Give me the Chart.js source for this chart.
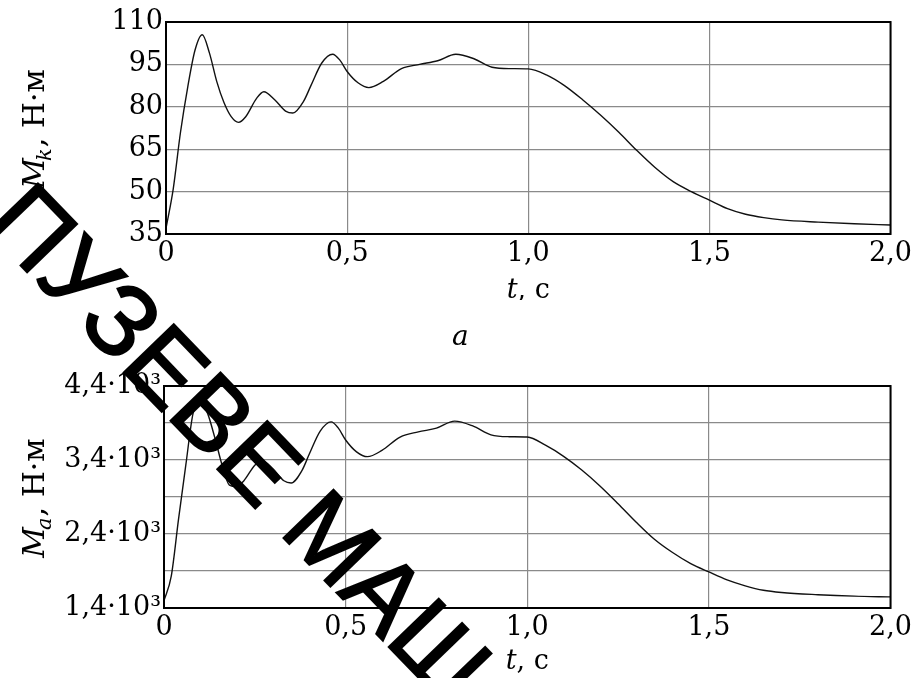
<!DOCTYPE html>
<html>
<head>
<meta charset="utf-8">
<script src="https://cdn.jsdelivr.net/npm/chart.js@4.4.0/dist/chart.umd.min.js"></script>
<style>
html, body { margin: 0; padding: 0; background: #fff; }
body { width: 916px; height: 678px; position: relative; overflow: hidden; }
canvas { position: absolute; left: 0; }
#chartK { top: 0; }
#chartA { top: 340px; }
#caption { position: absolute; left: 452px; top: 322px; font: italic 28px 'DejaVu Serif'; line-height: 28px; }
#stamp { position: absolute; left: 44px; top: 166px; font: 101px 'Liberation Sans'; line-height: 102px; white-space: pre; color: #000; -webkit-text-stroke: 2px #000; transform-origin: 0 0; transform: rotate(46deg); }
</style>
</head>
<body>
<canvas id="chartK" width="916" height="300"></canvas>
<canvas id="chartA" width="916" height="338"></canvas>
<div id="caption">a</div>
<div id="stamp">ПУЗЕВЕ МАШ</div>
<script>
// time, s
var timeK = [0, 0.02, 0.04, 0.06, 0.08, 0.1, 0.12, 0.14, 0.16, 0.18, 0.2, 0.22, 0.25, 0.27, 0.3, 0.33, 0.35, 0.38, 0.4, 0.43, 0.46, 0.48, 0.5, 0.53, 0.56, 0.6, 0.65, 0.7, 0.75, 0.8, 0.85, 0.9, 0.95, 1.0, 1.05, 1.1, 1.15, 1.2, 1.25, 1.3, 1.35, 1.4, 1.45, 1.5, 1.55, 1.6, 1.65, 1.7, 1.8, 1.9, 2.0];
// M_k, N*m
var momentK = [37, 51, 71, 87, 100, 105.5, 99, 89, 81.5, 76.5, 74.5, 76.5, 83, 85.3, 82.5, 78.5, 77.8, 82, 87.5, 95.5, 98.6, 96.5, 92.5, 88.5, 86.8, 89, 93.5, 95, 96.3, 98.6, 97, 94, 93.5, 93.4, 91.3, 87.5, 82.5, 77, 71, 64.5, 58.5, 53.5, 50, 47, 44, 42, 40.8, 40, 39.2, 38.6, 38.2];

var timeA = [0, 0.02, 0.04, 0.06, 0.08, 0.1, 0.12, 0.14, 0.16, 0.18, 0.2, 0.22, 0.25, 0.27, 0.3, 0.33, 0.35, 0.38, 0.4, 0.43, 0.46, 0.48, 0.5, 0.53, 0.56, 0.6, 0.65, 0.7, 0.75, 0.8, 0.85, 0.9, 0.95, 1.0, 1.05, 1.1, 1.15, 1.2, 1.25, 1.3, 1.35, 1.4, 1.45, 1.5, 1.55, 1.6, 1.65, 1.7, 1.8, 1.9, 2.0];
// M_a, N*m
var momentA = [1500, 1830, 2600, 3330, 4030, 4200, 4030, 3700, 3330, 3060, 3040, 3120, 3330, 3390, 3280, 3120, 3090, 3260, 3480, 3790, 3915, 3830, 3670, 3510, 3445, 3530, 3710, 3780, 3830, 3925, 3860, 3740, 3715, 3710, 3600, 3450, 3265, 3050, 2810, 2560, 2330, 2150, 2000, 1887, 1780, 1700, 1640, 1610, 1580, 1560, 1550];

var xTickValues = [0, 0.5, 1, 1.5, 2];
var kTickValues = [35, 50, 65, 80, 95, 110];
var aTickValues = [1400, 1900, 2400, 2900, 3400, 3900, 4400];
var aLabelValues = [1400, 2400, 3400, 4400];

var serif = "'DejaVu Serif'";
var fontSize = 27;

function commaNum(v) {
    return v === 0 ? '0' : v.toFixed(1).replace('.', ',');
}

// draws black frame round the plot
var framePlugin = {
    id: 'frame',
    afterDraw: function(chart) {
        var a = chart.chartArea, ctx = chart.ctx;
        ctx.save();
        ctx.strokeStyle = '#000';
        ctx.lineWidth = 2;
        ctx.strokeRect(a.left, a.top, a.right - a.left, a.bottom - a.top);
        ctx.restore();
    }
};

// axis titles with italic letters and subscript
var titlePlugin = {
    id: 'titles',
    afterDraw: function(chart, args, opts) {
        var ctx = chart.ctx, a = chart.chartArea;
        var big = fontSize + 'px ' + serif, bigI = 'italic ' + big;
        var yBig = '30px ' + serif, yBigI = 'italic ' + yBig, small = 'italic 21px ' + serif;
        ctx.save();
        ctx.fillStyle = '#000';
        ctx.textBaseline = 'alphabetic';
        // x title
        ctx.font = bigI;
        var w1 = ctx.measureText('t').width;
        ctx.font = big;
        var w2 = ctx.measureText(', с').width;
        var x0 = (a.left + a.right) / 2 - (w1 + w2) / 2;
        ctx.font = bigI;
        ctx.fillText('t', x0, opts.xBase);
        ctx.font = big;
        ctx.fillText(', с', x0 + w1, opts.xBase);
        // y title, rotated
        ctx.translate(opts.yX, (a.top + a.bottom) / 2);
        ctx.rotate(-Math.PI / 2);
        ctx.font = yBigI;
        var m = ctx.measureText('M').width;
        ctx.font = small;
        var s = ctx.measureText(opts.sub).width;
        ctx.font = yBig;
        var r = ctx.measureText(', Н·м').width;
        var start = -(m + s + r) / 2;
        ctx.font = yBigI;
        ctx.fillText('M', start, 11);
        ctx.font = small;
        ctx.fillText(opts.sub, start + m - 3, 18);
        ctx.font = yBig;
        ctx.fillText(', Н·м', start + m + s - 2, 11);
        ctx.restore();
    }
};

function makeChart(id, times, values, yMin, yMax, yTicks, yLabel, pad, yWidth, sub, xBase) {
    var points = times.map(function(t, i) { return {x: t, y: values[i]}; });
    return new Chart(document.getElementById(id), {
        type: 'line',
        data: {
            datasets: [{
                data: points,
                borderColor: '#111',
                borderWidth: 1.4,
                pointRadius: 0,
                cubicInterpolationMode: 'monotone',
                fill: false
            }]
        },
        plugins: [framePlugin, titlePlugin],
        options: {
            responsive: false,
            animation: false,
            devicePixelRatio: 1,
            layout: { padding: pad },
            plugins: {
                legend: { display: false },
                tooltip: { enabled: false },
                titles: { xBase: xBase, yX: 33, sub: sub }
            },
            scales: {
                x: {
                    type: 'linear',
                    min: 0,
                    max: 2,
                    afterBuildTicks: function(scale) {
                        scale.ticks = xTickValues.map(function(v) { return {value: v}; });
                    },
                    afterFit: function(scale) { scale.height = 40; },
                    grid: { color: '#8a8a8a', lineWidth: 1.2, drawTicks: false },
                    border: { display: false },
                    ticks: {
                        autoSkip: false,
                        maxRotation: 0,
                        padding: 4,
                        color: '#000',
                        font: { family: serif, size: fontSize },
                        callback: function(v) { return commaNum(v); }
                    }
                },
                y: {
                    type: 'linear',
                    min: yMin,
                    max: yMax,
                    afterBuildTicks: function(scale) {
                        scale.ticks = yTicks.map(function(v) { return {value: v}; });
                    },
                    afterFit: function(scale) { scale.width = yWidth; },
                    grid: { color: '#8a8a8a', lineWidth: 1.2, drawTicks: false },
                    border: { display: false },
                    ticks: {
                        autoSkip: false,
                        padding: 3,
                        color: '#000',
                        font: { family: serif, size: fontSize },
                        callback: yLabel
                    }
                }
            }
        }
    });
}

makeChart('chartK', timeK, momentK, 35, 110, kTickValues,
    function(v) { return String(v); },
    {left: 0, top: 22, right: 24, bottom: 26}, 166, 'k', 298);

makeChart('chartA', timeA, momentA, 1400, 4400, aTickValues,
    function(v) {
        if (aLabelValues.indexOf(v) < 0) return '';
        return commaNum(v / 1000) + '·10³';
    },
    {left: 0, top: 46, right: 23, bottom: 30}, 164, 'a', 329);
</script>
</body>
</html>
